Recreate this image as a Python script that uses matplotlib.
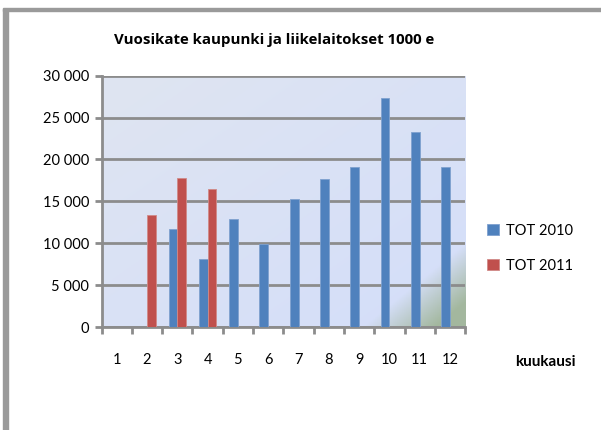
import numpy as np
import matplotlib.pyplot as plt
from matplotlib.ticker import FuncFormatter
from matplotlib.patches import Rectangle

# data
months = np.arange(1, 13)
tot_2010 = [np.nan, np.nan, 11670, 8090, 12940, 9920, 15300, 17650, 19080, 27330, 23260, 19080]
tot_2011 = [np.nan, 13350, 17800, 16530, np.nan, np.nan, np.nan, np.nan, np.nan, np.nan, np.nan, np.nan]
yticks = [0, 5000, 10000, 15000, 20000, 25000, 30000]

plt.rcParams['font.family'] = ['Lato', 'DejaVu Sans']

fig = plt.figure(figsize=(6.01, 4.30), dpi=100)
ax = fig.add_axes([0.169, 0.2395, 0.605, 0.5845])

# frame lines of the chart box
fig.patches.append(Rectangle((3/601, 0), 5/601, 421/430, transform=fig.transFigure,
                             color='#9a9a9a', zorder=0))
fig.patches.append(Rectangle((3/601, 419/430), 598/601, 2.5/430, transform=fig.transFigure,
                             color='#9a9a9a', zorder=0))

# plot area gradient
nx, ny = 200, 150
u = np.linspace(0, 1, nx)[None, :]
v = np.linspace(1, 0, ny)[:, None]
c0 = np.array([0.875, 0.898, 0.945])
c1 = np.array([0.830, 0.870, 0.980])
t = np.clip((u + (1 - v)) / 2, 0, 1)[..., None]
img = c0 * (1 - t) + c1 * t
g = np.clip((u - 0.72 - 0.85 * v) / 0.2, 0, 1)[..., None]
green = np.array([0.64, 0.72, 0.62])
img = img * (1 - g) + green * g
ax.imshow(img, extent=[0.5, 12.5, 0, 30000], aspect='auto', zorder=0)

w = 0.29
ax.bar(months - w/2, tot_2010, w, color='#4f81bd', edgecolor='#7fa1cf', linewidth=0.6,
       label='TOT 2010', zorder=3)
ax.bar(months + w/2, tot_2011, w, color='#c0504d', edgecolor='#d08a88', linewidth=0.6,
       label='TOT 2011', zorder=3)

ax.set_xlim(0.5, 12.5)
ax.set_ylim(0, 30000)
ax.set_yticks(yticks)
ax.yaxis.set_major_formatter(FuncFormatter(lambda val, p: f'{int(val):,}'.replace(',', ' ')))
ax.set_xticks(months)
ax.set_xticks(np.arange(0.5, 13, 1), minor=True)
ax.tick_params(axis='x', which='major', length=0, pad=19, labelsize=10.5)
ax.tick_params(axis='x', which='minor', length=5, width=2, color='#8c8c8c', direction='out')
ax.tick_params(axis='y', length=5, width=2, color='#8c8c8c', labelsize=10.5, pad=4)
ax.grid(axis='y', color='#8c8c8c', linewidth=2, zorder=1)
ax.set_axisbelow(True)
for s in ['top', 'right']:
    ax.spines[s].set_visible(False)
for s in ['left', 'bottom']:
    ax.spines[s].set_color('#8c8c8c')
    ax.spines[s].set_linewidth(2)

fig.text(274/601, 1 - 40/430, 'Vuosikate kaupunki ja liikelaitokset 1000 e',
         family=['Open Sans', 'DejaVu Sans'], fontsize=10.8, fontweight='bold',
         ha='center', va='center')

ax.legend(loc='upper left', bbox_to_anchor=(1.045, 0.435), frameon=False, fontsize=10.5,
          handlelength=0.8, handleheight=0.8, labelspacing=1.45, handletextpad=0.45,
          borderaxespad=0)

fig.text(515/601, 1 - 362/430, 'kuukausi', fontsize=11, fontweight='bold', ha='left', va='center')

fig.savefig('out.png', dpi=100)
